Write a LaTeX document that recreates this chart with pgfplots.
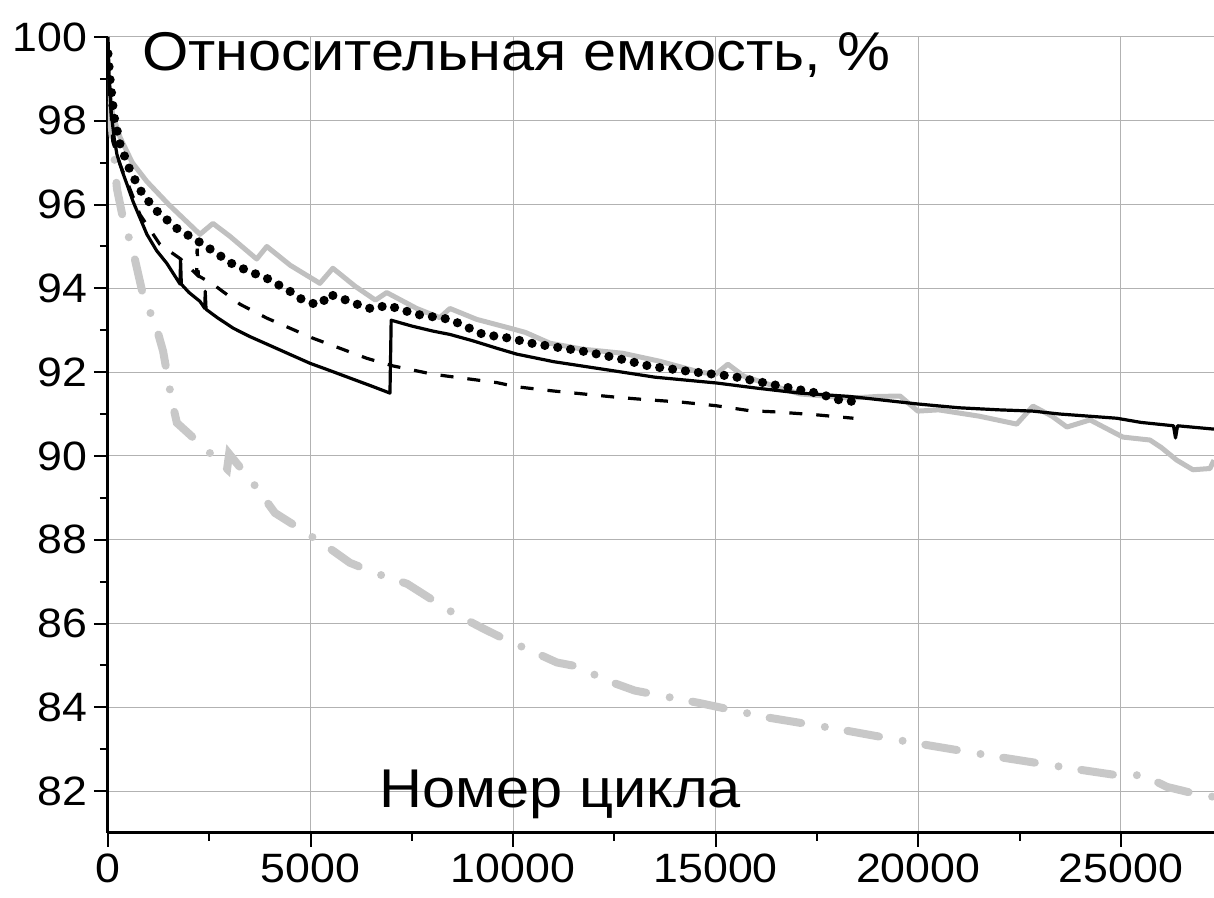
\documentclass[border=0pt]{standalone}
\usepackage{fontspec}
\setmainfont[FakeStretch=1.09]{Liberation Sans}
\usepackage{pgfplots}
\pgfplotsset{compat=1.18}
\definecolor{lgray}{RGB}{192,192,192}
\definecolor{dgray}{RGB}{200,200,200}
\begin{document}
\begin{tikzpicture}
\begin{axis}[
  scale only axis, width=553pt, height=398pt,
  at={(0,0)}, anchor=south west,
  xmin=0, xmax=27300, ymin=81, ymax=100,
  axis lines=left, axis line style={-, line width=1.5pt},
  xtick={0,5000,...,25000}, minor x tick num=1,
  ytick={82,84,...,100}, minor y tick num=1,
  grid=major, major grid style={black!30, line width=0.5pt},
  tick align=outside, major tick length=7pt, minor tick length=4pt,
  every tick/.style={black, line width=1pt},
  scaled x ticks=false,
  xticklabel style={/pgf/number format/1000 sep={}},
  ticklabel style={font=\fontsize{20.5}{24}\selectfont},
  /pgf/number format/assume math mode=true,
  clip mode=individual,
]
% dash-dot gray
\addplot[dgray, line width=4pt, line cap=round, dash pattern=on 16pt off 12pt on 0pt off 11.5pt] coordinates {
(50,98.4) (220,96.38) (370,95.67) (620,94.88) (860,93.86) (1200,93.05) (1360,92.5) (1580,91.3) (1700,90.79) (2190,90.36) (2940,89.69) (2990,90.05) (3670,89.24) (4120,88.64) (4740,88.26) (5550,87.74) (5970,87.45) (6640,87.19) (7380,86.95) (7950,86.6) (8510,86.26) (9260,85.88) (9850,85.6) (10420,85.36) (11080,85.07) (11720,84.95) (12140,84.7) (13000,84.4) (14610,84.1) (16260,83.76) (17900,83.5) (19960,83.14) (22010,82.81) (24060,82.5) (24900,82.38) (25550,82.38) (26140,82.1) (26780,81.95) (27300,81.86)
};
% gray solid
\addplot[lgray, line width=2.5pt, line join=round] coordinates {
(0,99.0) (100,98.2) (300,97.6) (600,97.0) (960,96.55) (1500,96.0) (2270,95.29) (2590,95.55) (3000,95.25) (3670,94.7) (3920,95.0) (4500,94.55) (5230,94.12) (5550,94.48) (6100,94.05) (6600,93.72) (6880,93.9) (7620,93.52) (8190,93.3) (8440,93.52) (9100,93.26) (9920,93.05) (10300,92.95) (10910,92.69) (11700,92.55) (12710,92.45) (13620,92.26) (14610,92.0) (15000,91.95) (15300,92.19) (15700,91.9) (16660,91.6) (17080,91.48) (18310,91.38) (19000,91.42) (19550,91.43) (19990,91.07) (20500,91.1) (21500,90.95) (22430,90.76) (22830,91.19) (23300,90.95) (23670,90.69) (24240,90.86) (25050,90.45) (25720,90.38) (26000,90.2) (26380,89.9) (26780,89.67) (27200,89.7) (27300,89.9)
};
% dashed black
\addplot[black, line width=1.6pt, dash pattern=on 6.5pt off 7pt] coordinates {
(0,99.6) (50,98.6) (120,97.5) (300,96.95) (470,96.55) (790,95.76) (1280,95.05) (1780,94.71) (2190,94.33) (2200,94.95) (2230,94.3) (2590,94.1) (3260,93.62) (3920,93.29) (5060,92.81) (6390,92.33) (7030,92.15) (8020,91.95) (9600,91.75) (10090,91.65) (11000,91.55) (12560,91.4) (13200,91.35) (14200,91.28) (15000,91.2) (15840,91.08) (16500,91.05) (17500,90.98) (18400,90.9)
};
% dotted black
\addplot[black, line width=4.6pt, line cap=round, dash pattern=on 0pt off 6.5pt] coordinates {
(0,99.6) (50,99.0) (150,98.1) (300,97.43) (550,96.8) (860,96.24) (1200,95.85) (1700,95.43) (2350,95.05) (3090,94.57) (3500,94.4) (3920,94.24) (4490,93.93) (4740,93.76) (5060,93.64) (5300,93.64) (5400,93.86) (5600,93.82) (6150,93.62) (6540,93.5) (6880,93.6) (7620,93.38) (8440,93.26) (9260,92.9) (9920,92.81) (10500,92.68) (11720,92.5) (12500,92.35) (13380,92.14) (14500,92.0) (15420,91.9) (16580,91.67) (17500,91.5) (18140,91.31) (18600,91.3)
};
% solid black
\addplot[black, line width=1.6pt, line join=round] coordinates {
(0,100.0) (30,99.0) (80,98.2) (150,97.6) (220,97.2) (350,96.8) (470,96.48) (620,96.07) (960,95.29) (1200,94.9) (1450,94.6) (1780,94.1) (1790,94.7) (1810,94.1) (2000,93.9) (2270,93.69) (2390,93.52) (2400,93.93) (2420,93.5) (2700,93.3) (3090,93.05) (3500,92.85) (3920,92.67) (4500,92.42) (4990,92.21) (5500,92.03) (5970,91.86) (6500,91.67) (6960,91.5) (6990,93.24) (7500,93.1) (8020,92.98) (8440,92.9) (9000,92.75) (9600,92.57) (10090,92.43) (11000,92.25) (12560,92.02) (13500,91.88) (15030,91.74) (16000,91.62) (17080,91.5) (18310,91.42) (19990,91.24) (21000,91.15) (22000,91.1) (22830,91.07) (23500,91.0) (24900,90.9) (25500,90.8) (26300,90.72) (26350,90.43) (26400,90.72) (27300,90.64)
};
\node[anchor=base west, inner sep=0pt, font=\fontsize{27.3}{32}\selectfont] at (axis cs:839,99.2) {Относительная емкость, \%};
\node[anchor=base west, inner sep=0pt, font=\fontsize{27.3}{32}\selectfont] at (axis cs:6690,81.62) {Номер цикла};
\end{axis}
\pgfresetboundingbox
\useasboundingbox (-54pt,-32.5pt) rectangle (553pt,416.5pt);
\end{tikzpicture}
\end{document}
